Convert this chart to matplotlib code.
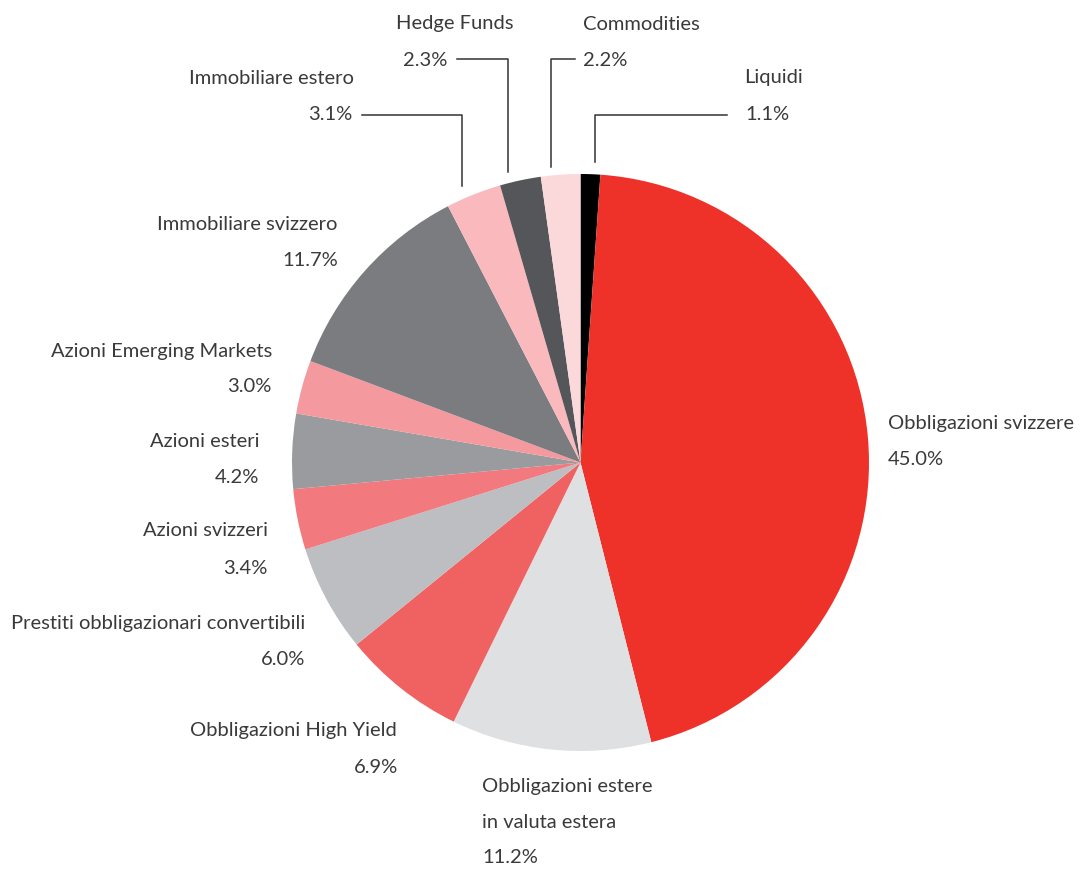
import matplotlib
matplotlib.use('Agg')
import matplotlib.pyplot as plt

# ─── Données ──────────────────────────────────────────────────────────────────
labels = ["Liquidi", "Obbligazioni svizzere", "Obbligazioni estere\nin valuta estera",
          "Obbligazioni High Yield", "Prestiti obbligazionari convertibili",
          "Azioni svizzeri", "Azioni esteri", "Azioni Emerging Markets",
          "Immobiliare svizzero", "Immobiliare estero", "Hedge Funds", "Commodities"]
values = [1.1, 45.0, 11.2, 6.9, 6.0, 3.4, 4.2, 3.0, 11.7, 3.1, 2.3, 2.2]
colors = ["#000000", "#EE3229", "#DFE0E2", "#F06262", "#BDBEC1", "#F27A7E",
          "#9A9B9F", "#F4999D", "#7A7C80", "#F9B9BD", "#55565A", "#FBD9DA"]

# ─── Mise en page (pixels, origine en haut à gauche) ─────────────────────────
W, H = 1087, 870
CX, CY, R = 580.5, 463.5, 288.5
# (x du nom, y du nom, x du pourcentage, y du pourcentage, alignement)
label_pos = {
    "Liquidi":                 (744, 78, 745, 114, "left"),
    "Obbligazioni svizzere":   (888, 424, 888, 460, "left"),
    "Obbligazioni estere\nin valuta estera": (482, 787, 482, 858, "left"),
    "Obbligazioni High Yield": (397, 731, 398, 768, "right"),
    "Prestiti obbligazionari convertibili": (305, 624, 305, 660, "right"),
    "Azioni svizzeri":         (268, 530, 268, 568, "right"),
    "Azioni esteri":           (259, 442, 259, 478, "right"),
    "Azioni Emerging Markets": (272, 352, 272, 387, "right"),
    "Immobiliare svizzero":    (337, 224, 338, 260, "right"),
    "Immobiliare estero":      (354, 78, 352, 114, "right"),
    "Hedge Funds":             (514, 24, 447, 60, "right"),
    "Commodities":             (583, 24, 583, 60, "left"),
}
# lignes de rappel : (x début horizontal, x coude, y horizontal, y fin sur le disque)
leaders = {
    "Liquidi":            (727, 595, 116, 163),
    "Immobiliare estero": (362, 462, 116, 187),
    "Hedge Funds":        (457, 508, 60, 173),
    "Commodities":        (575, 551, 60, 168),
}

TXT = "#3a3a3a"
FS = 14.5
plt.rcParams["font.family"] = ["Lato", "DejaVu Sans"]


def py(y):
    return H - y


fig = plt.figure(figsize=(W / 100, H / 100), dpi=100)
ax = fig.add_axes([0, 0, 1, 1])

ax.pie(values, colors=colors, startangle=90, counterclock=False,
       center=(CX, py(CY)), radius=R, frame=True,
       wedgeprops=dict(linewidth=0))
ax.set_xlim(0, W)
ax.set_ylim(0, H)
ax.set_aspect("equal")
ax.axis("off")

for lab, val in zip(labels, values):
    xn, yn, xp, yp, ha = label_pos[lab]
    if "\n" in lab:
        first, second = lab.split("\n")
        ax.text(xn, py(yn), first, ha=ha, va="center", fontsize=FS, color=TXT)
        ax.text(xn, py(yn + 36), second, ha=ha, va="center", fontsize=FS, color=TXT)
    else:
        ax.text(xn, py(yn), lab, ha=ha, va="center", fontsize=FS, color=TXT)
    ax.text(xp, py(yp), f"{val:.1f}%", ha=ha, va="center", fontsize=FS, color=TXT)

for lab, (x0, xk, yh, yend) in leaders.items():
    ax.plot([x0, xk, xk], [py(yh), py(yh), py(yend)], color="#333333", linewidth=1.1)

plt.savefig("out.png", dpi=100)
plt.close()
